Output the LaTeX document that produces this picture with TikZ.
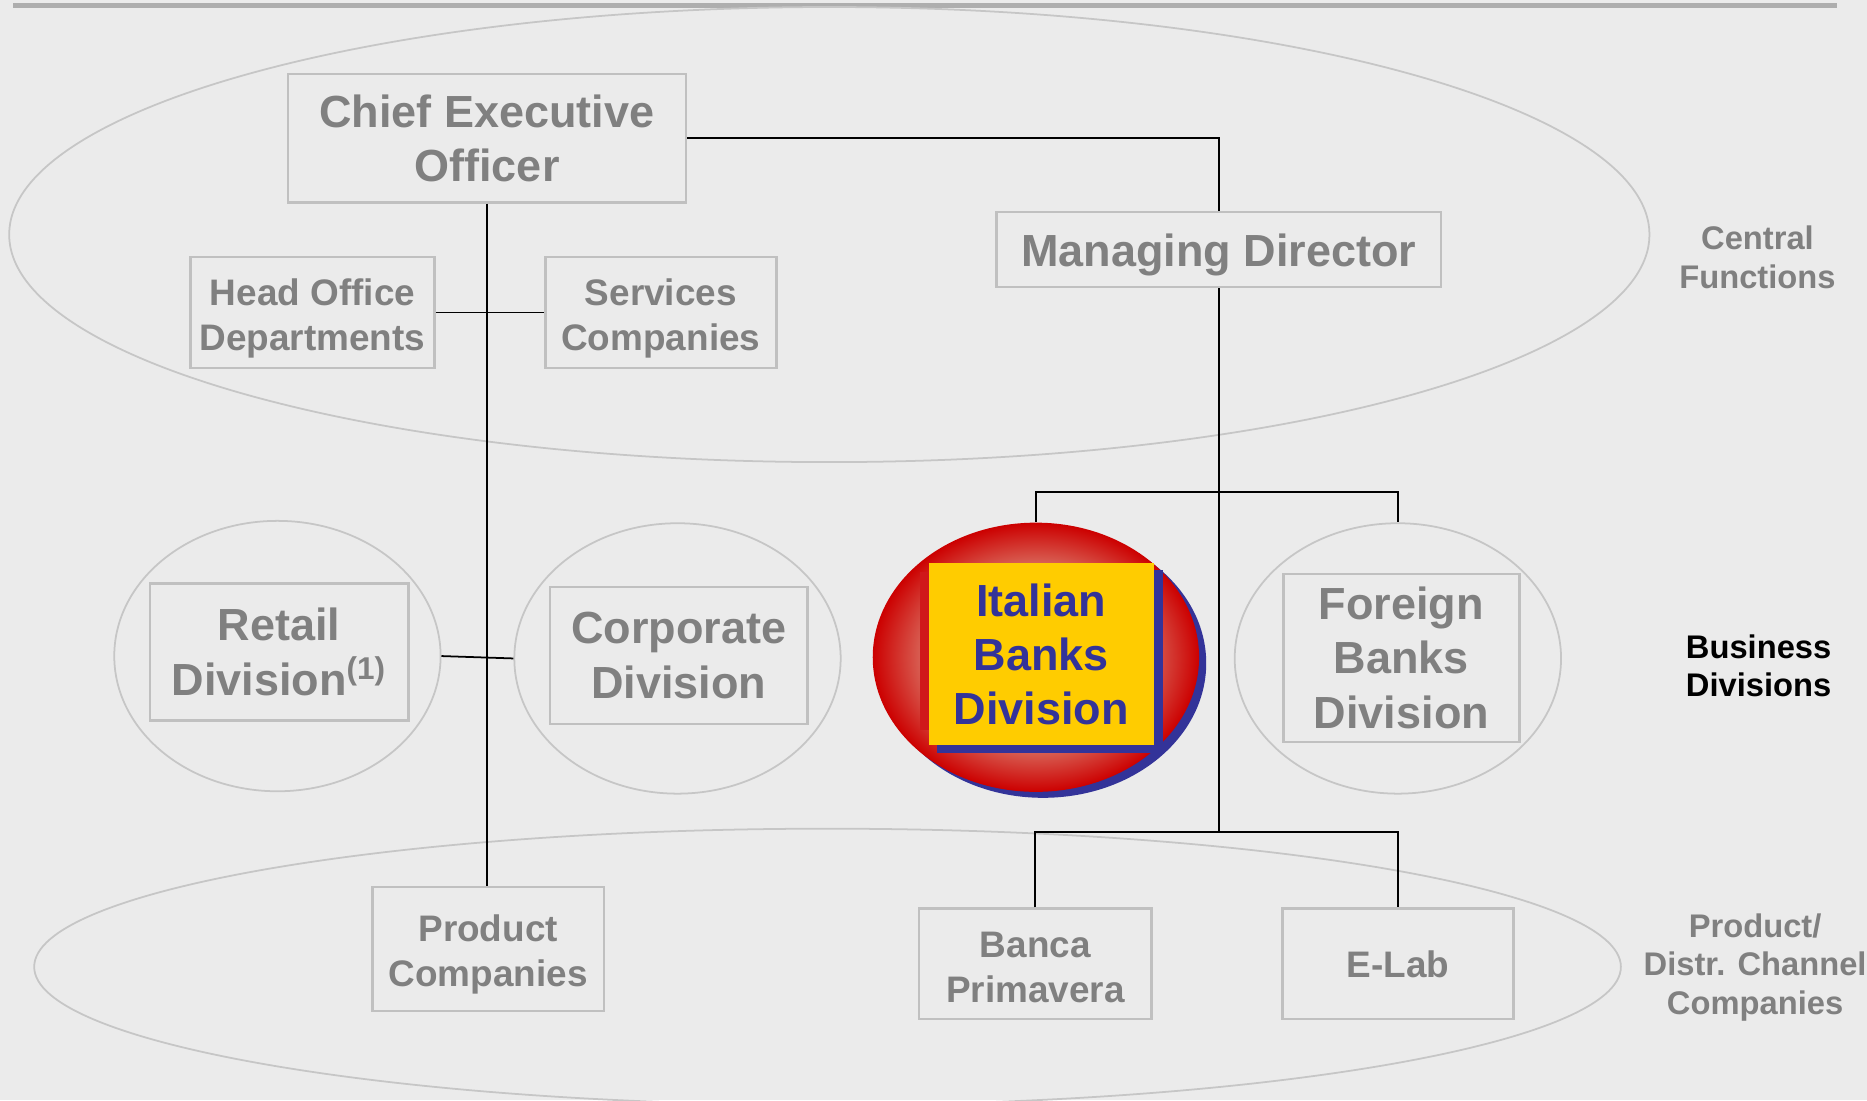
\documentclass[tikz,border=0pt]{standalone}
\usepackage{fontspec}
\setmainfont{Liberation Sans}
\usepackage{xcolor}
\usetikzlibrary{shapes.geometric}
\definecolor{paper}{HTML}{EBEBEB}
\definecolor{rulegrey}{HTML}{AEAEAE}
\definecolor{boxline}{HTML}{C0C0C0}
\definecolor{ovalline}{HTML}{C6C6C6}
\definecolor{txtgrey}{HTML}{808080}
\definecolor{itared}{HTML}{CC0000}
\definecolor{itaglow}{HTML}{D9675A}
\definecolor{itastrip}{HTML}{D0181A}
\definecolor{itablue}{HTML}{333399}
\definecolor{itayellow}{HTML}{FFCC00}
\pgfdeclareradialshading{ovalglow}{\pgfpoint{0bp}{0bp}}{color(0bp)=(itaglow); color(17bp)=(itaglow); color(25bp)=(itared); color(50bp)=(itared)}
\newcommand\lifted[1]{\rule{0pt}{#1}}

\begin{document}
\begin{tikzpicture}[x=0.011907cm,y=-0.011907cm,
	unit/.style={draw=boxline,line width=0.7pt,text=txtgrey,font=\fontsize{12.8}{15.4}\selectfont\bfseries,align=center,inner sep=0pt},
	small/.style={unit,font=\fontsize{10.5}{12.8}\selectfont\bfseries},
	oval/.style={ellipse,draw=ovalline,line width=0.5pt,inner sep=0pt},
	side/.style={font=\fontsize{9.3}{10.9}\selectfont\bfseries,align=center,text=txtgrey},
	link/.style={line width=0.5pt}]
	\useasboundingbox (0,0) rectangle (1568,924);
	\fill[paper] (0,0) rectangle (1568,924);
	\draw[rulegrey,line width=1.4pt] (11,4.9)--(1543,4.9);
	
	% zones and division ovals
	\node[oval,minimum width=16.396cm,minimum height=4.549cm] (central) at (696.5,197){};
	\node[oval,minimum width=15.860cm,minimum height=2.762cm] (channel) at (695,812){};
	\node[oval,minimum width=3.262cm,minimum height=2.703cm] (retoval) at (233,551){};
	\node[oval,minimum width=3.262cm,minimum height=2.703cm] (coroval) at (569,553){};
	\node[oval,minimum width=3.262cm,minimum height=2.703cm] (fbkoval) at (1174,553){};
	\node[ellipse,fill=itablue,inner sep=0pt,minimum width=3.262cm,minimum height=2.691cm] (itashadow) at (876,557){};
	\node[ellipse,shade,shading=ovalglow,inner sep=0pt,minimum width=3.262cm,minimum height=2.691cm] (itaoval) at (870,552){};
	
	% units
	\node[unit,minimum width=3.977cm,minimum height=1.286cm] (ceo) at (409,116){Chief Executive\\Officer};
	\node[unit,minimum width=4.441cm,minimum height=0.750cm] (md) at (1023.5,209.5){\lifted{12.3pt}Managing Director};
	\node[small,minimum width=2.441cm,minimum height=1.107cm] (hod) at (262.5,262.5){\lifted{10.7pt}Head Office\\Departments};
	\node[small,minimum width=2.310cm,minimum height=1.107cm] (svc) at (555,262.5){\lifted{10.7pt}Services\\Companies};
	\node[unit,minimum width=2.584cm,minimum height=1.369cm] (ret) at (234.5,547.5){Retail\\Division\textsuperscript{(1)}};
	\node[unit,minimum width=2.572cm,minimum height=1.369cm] (cor) at (570,550.5){Corporate\\Division};
	\node[unit,minimum width=2.358cm,minimum height=1.679cm] (fbk) at (1177,552.5){Foreign\\Banks\\Division};
	\fill[itastrip] (773,480) rectangle (790,613);
	\fill[itablue] (787,479) rectangle (977,632);
	\node[unit,draw=none,fill=itayellow,text=itablue,minimum width=2.250cm,minimum height=1.822cm] (ita) at (874.5,549.5){Italian\\Banks\\Division};
	\node[small,minimum width=2.310cm,minimum height=1.238cm] (prc) at (410,797){\lifted{10.7pt}Product\\Companies};
	\node[small,minimum width=2.322cm,minimum height=1.107cm] (bpr) at (869.5,809.5){\lifted{9.3pt}Banca\\Primavera};
	\node[small,minimum width=2.310cm,minimum height=1.107cm] (elab) at (1174,809.5){E-Lab};
	
	% side labels
	\node[side] (cfl) at (1476,216){Central\\Functions};
	\node[side,text=black] (bdl) at (1477,559){Business\\Divisions};
	\node[side] (pdl) at (1474,812.5){Product/\\Distr. Channel\\Companies};
	
	% connectors
	\path (md.south) ++(0,171) coordinate (split);
	\path (md.south) ++(0,457) coordinate (join);
	\draw[link] (ceo.east) -| (md.north);
	\draw[link] (ceo.south) -- (ceo.south |- prc.north);
	\draw[link] (hod.east) -- (svc.west);
	\draw[link] (md.south) -- (join);
	\draw[link] (itaoval.north) |- (split) -| (fbkoval.north);
	\draw[link] (bpr.north) |- (join) -| (elab.north);
	\draw[link] (retoval.east) -- (coroval.west);
	\end{tikzpicture}
\end{document}
